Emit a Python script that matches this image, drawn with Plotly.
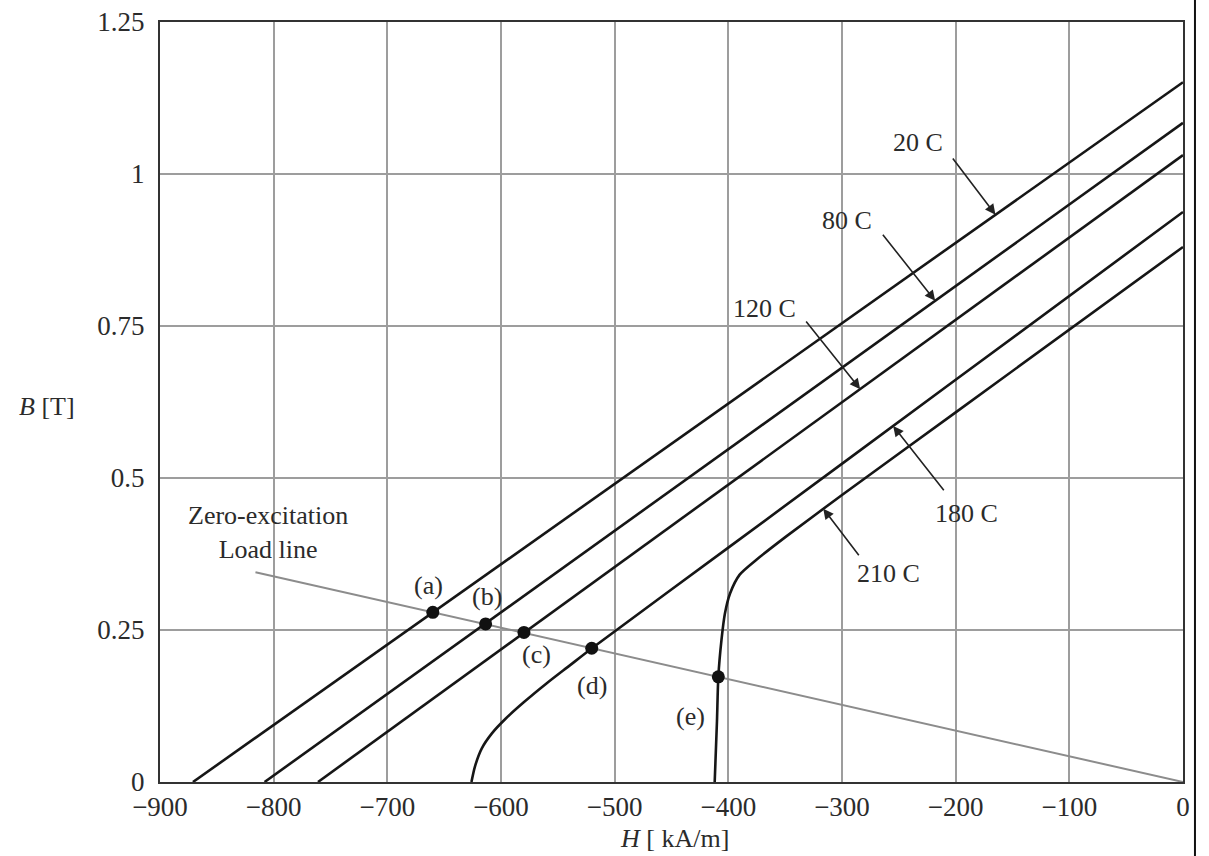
import plotly.graph_objects as go

# Demagnetization curves B(H) for a permanent magnet at several temperatures
H_20C = [-871, 0]
B_20C = [0.0, 1.151]

H_80C = [-808, 0]
B_80C = [0.0, 1.084]

H_120C = [-761, 0]
B_120C = [0.0, 1.031]

H_180C = [-626, -623, -617, -608, -596, -580, -560, -540, -520, -400, -200, 0]
B_180C = [0.0, 0.025, 0.055, 0.080, 0.104, 0.131, 0.162, 0.191, 0.220, 0.3855, 0.6615, 0.9375]

H_210C = [-412, -410, -408.8, -406, -403, -398.5, -390, -375, -349, -300, -200, 0]
B_210C = [0.0, 0.10, 0.173, 0.234, 0.277, 0.310, 0.341, 0.366, 0.404, 0.472, 0.608, 0.880]

# Zero-excitation load line
H_load = [-816, 0]
B_load = [0.345, 0.0]

# Operating points on the load line
op_labels = ["(a)", "(b)", "(c)", "(d)", "(e)"]
op_H = [-660, -613.5, -579.8, -520.2, -408.8]
op_B = [0.279, 0.260, 0.246, 0.220, 0.173]
op_label_H = [-664, -612.6, -568.6, -519.7, -433.7]
op_label_B = [0.324, 0.305, 0.209, 0.158, 0.107]

# Temperature labels with arrows pointing at their curves
temp_labels = ["20 C", "80 C", "120 C", "180 C", "210 C"]
temp_text_H = [-233.2, -295.9, -367.8, -190.3, -259.3]
temp_text_B = [1.051, 0.924, 0.779, 0.442, 0.343]
arrow_tail_H = [-203.5, -265.1, -332.6, -209.4, -284.2]
arrow_tail_B = [1.028, 0.9025, 0.760, 0.4775, 0.3706]
arrow_tip_H = [-165, -218, -284, -255, -316.5]
arrow_tip_B = [0.933, 0.7915, 0.646, 0.5856, 0.4496]

x_ticks = [-900, -800, -700, -600, -500, -400, -300, -200, -100, 0]
y_ticks = [0, 0.25, 0.5, 0.75, 1, 1.25]
y_tick_text = ["0", "0.25", "0.5", "0.75", "1", "1.25"]

FONT = "Liberation Serif"
TXT = "#2b2b2b"
CURVE = "#161616"

fig = go.Figure()

fig.add_trace(go.Scatter(x=H_load, y=B_load, mode="lines",
                         line=dict(color="#8c8c8c", width=2), hoverinfo="skip"))

for H, B in [(H_20C, B_20C), (H_80C, B_80C), (H_120C, B_120C),
             (H_180C, B_180C), (H_210C, B_210C)]:
    fig.add_trace(go.Scatter(x=H, y=B, mode="lines",
                             line=dict(color=CURVE, width=2.6, shape="spline", smoothing=0.7),
                             hoverinfo="skip"))

fig.add_trace(go.Scatter(x=op_H, y=op_B, mode="markers",
                         marker=dict(color="#111111", size=13), hoverinfo="skip"))

annotations = []
for lab, hx, by in zip(op_labels, op_label_H, op_label_B):
    annotations.append(dict(x=hx, y=by, xref="x", yref="y", text=lab, showarrow=False,
                            xanchor="center", yanchor="middle",
                            font=dict(family=FONT, size=26, color=TXT)))

for lab, tx, ty in zip(temp_labels, temp_text_H, temp_text_B):
    annotations.append(dict(x=tx, y=ty, xref="x", yref="y", text=lab, showarrow=False,
                            xanchor="center", yanchor="middle",
                            font=dict(family=FONT, size=26, color=TXT)))

for axh, ayb, xh, yb in zip(arrow_tail_H, arrow_tail_B, arrow_tip_H, arrow_tip_B):
    annotations.append(dict(x=xh, y=yb, ax=axh, ay=ayb, xref="x", yref="y",
                            axref="x", ayref="y", text="", showarrow=True,
                            arrowhead=2, arrowsize=1.3, arrowwidth=1.6,
                            arrowcolor="#222222", standoff=0, startstandoff=0))

annotations.append(dict(x=-805, y=0.41, xref="x", yref="y",
                        text="Zero-excitation<br>Load line", showarrow=False,
                        align="center", xanchor="center", yanchor="middle",
                        font=dict(family=FONT, size=26, color=TXT)))

annotations.append(dict(x=-0.1105, y=0.617, xref="paper", yref="y",
                        text="<i>B</i> [T]", showarrow=False,
                        xanchor="center", yanchor="middle",
                        font=dict(family=FONT, size=26, color=TXT)))
annotations.append(dict(x=-447.8, y=-0.074, xref="x", yref="paper",
                        text="<i>H</i> [ kA/m]", showarrow=False,
                        xanchor="center", yanchor="middle",
                        font=dict(family=FONT, size=26, color=TXT)))

fig.update_layout(
    width=1209, height=856,
    margin=dict(l=160, r=26, t=22, b=74),
    paper_bgcolor="white", plot_bgcolor="white",
    showlegend=False,
    annotations=annotations,
    shapes=[dict(type="line", xref="paper", yref="paper",
                 x0=1.0117, x1=1.0117, y0=-0.1, y1=1.03,
                 line=dict(color="#111111", width=2))],
)

fig.update_xaxes(range=[-900, 0], tickvals=x_ticks, automargin=False,
                 showgrid=True, gridcolor="#9d9d9d", gridwidth=1.5,
                 showline=True, linecolor="#333333", linewidth=2, mirror=True,
                 zeroline=False, ticks="", ticklen=0,
                 tickfont=dict(family=FONT, size=27, color=TXT))
fig.update_yaxes(range=[0, 1.25], tickvals=y_ticks, ticktext=y_tick_text, automargin=False,
                 showgrid=True, gridcolor="#9d9d9d", gridwidth=1.5,
                 showline=True, linecolor="#333333", linewidth=2, mirror=True,
                 zeroline=False, ticks="outside", ticklen=8, tickcolor="rgba(0,0,0,0)",
                 tickfont=dict(family=FONT, size=27, color=TXT))

fig.write_html("out.html")
